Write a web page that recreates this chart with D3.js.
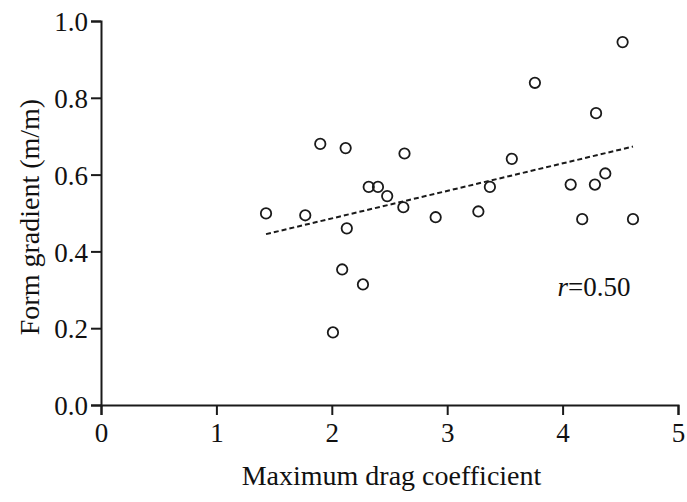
<!DOCTYPE html>
<html>
<head>
<meta charset="utf-8">
<script src="https://cdn.jsdelivr.net/npm/d3@7"></script>
<style>
  body { margin: 0; background: #fff; }
  #chart { width: 687px; height: 502px; }
  text { font-family: "Liberation Serif", "Times New Roman", serif; fill: #111; }
</style>
</head>
<body>
<div id="chart"></div>
<script>
// data
const dragCoef = [1.43, 1.77, 1.90, 2.01, 2.09, 2.12, 2.13, 2.27, 2.32, 2.40, 2.48, 2.62, 2.63,
                  2.90, 3.27, 3.37, 3.56, 3.76, 4.07, 4.17, 4.28, 4.29, 4.37, 4.52, 4.61];
const formGrad = [0.499, 0.494, 0.680, 0.189, 0.353, 0.669, 0.460, 0.314, 0.568, 0.568, 0.544, 0.515, 0.655,
                  0.489, 0.504, 0.568, 0.641, 0.839, 0.574, 0.484, 0.574, 0.760, 0.603, 0.945, 0.484];
const trendX = [1.43, 4.61];
const trendY = [0.445, 0.673];
const xTicks = [0, 1, 2, 3, 4, 5];
const yTicks = [0, 0.2, 0.4, 0.6, 0.8, 1.0];
const rLabel = "0.50";

// Margin Convention
const margin = {top: 21, right: 9, bottom: 97, left: 101};
const width = 687 - margin.left - margin.right;
const height = 502 - margin.top - margin.bottom;

const svg = d3.select("#chart").append("svg")
    .attr("width", 687)
    .attr("height", 502)
    .append("g")
    .attr("transform", "translate(" + margin.left + "," + margin.top + ")");

const x = d3.scaleLinear().domain([0, 5]).range([0, width]);
const y = d3.scaleLinear().domain([0, 1]).range([height, 0]);

// axes
const xAxis = svg.append("g")
    .attr("transform", "translate(0," + height + ")")
    .call(d3.axisBottom(x).tickValues(xTicks).tickFormat(d3.format("d")).tickSize(10).tickPadding(6));
const yAxis = svg.append("g")
    .call(d3.axisLeft(y).tickValues(yTicks).tickFormat(d3.format(".1f")).tickSize(10).tickPadding(3));

[xAxis, yAxis].forEach(a => {
    a.select(".domain").attr("stroke", "#1a1a1a").attr("stroke-width", 2);
    a.selectAll(".tick line").attr("stroke", "#1a1a1a").attr("stroke-width", 2);
    a.selectAll(".tick text")
        .attr("font-family", "Liberation Serif")
        .attr("font-size", 27)
        .attr("fill", "#111");
});
xAxis.selectAll(".tick text").attr("dy", "0.78em");
yAxis.selectAll(".tick text").attr("dy", "0.36em");

// axis titles
svg.append("text")
    .attr("x", width / 2 + 2)
    .attr("y", height + 80)
    .attr("text-anchor", "middle")
    .attr("font-size", 28)
    .text("Maximum drag coefficient");

svg.append("text")
    .attr("transform", "translate(" + (39 - margin.left) + "," + (height / 2 + 4) + ") rotate(-90)")
    .attr("text-anchor", "middle")
    .attr("font-size", 28)
    .text("Form gradient (m/m)");

// trend line
svg.append("line")
    .attr("x1", x(trendX[0])).attr("y1", y(trendY[0]))
    .attr("x2", x(trendX[1])).attr("y2", y(trendY[1]))
    .attr("stroke", "#1a1a1a")
    .attr("stroke-width", 2)
    .attr("stroke-dasharray", "5,3");

// points
svg.selectAll("circle.pt")
    .data(dragCoef.map((d, i) => ({x: d, y: formGrad[i]})))
    .enter().append("circle")
    .attr("class", "pt")
    .attr("cx", d => x(d.x))
    .attr("cy", d => y(d.y))
    .attr("r", 5.2)
    .attr("fill", "none")
    .attr("stroke", "#1a1a1a")
    .attr("stroke-width", 1.8);

// r label
const rText = svg.append("text")
    .attr("x", x(4.0) - 5)
    .attr("y", y(0.285))
    .attr("font-size", 27);
rText.append("tspan").attr("font-style", "italic").text("r");
rText.append("tspan").text("=" + rLabel);
</script>
</body>
</html>
